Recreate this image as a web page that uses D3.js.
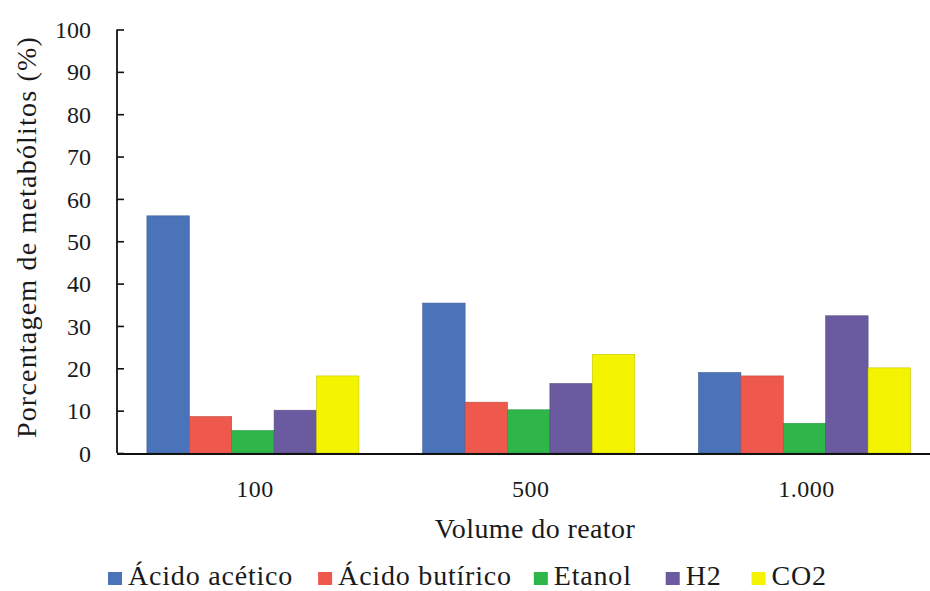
<!DOCTYPE html>
<html>
<head>
<meta charset="utf-8">
<script src="https://cdn.jsdelivr.net/npm/d3@7"></script>
<style>
  html, body { margin: 0; padding: 0; background: #fff; }
  svg { display: block; }
</style>
</head>
<body>
<svg id="chart" width="930" height="591"></svg>
<script>
// Reactor volumes (x categories)
const volumes = ["100", "500", "1.000"];
// Metabolites (series)
const metabolites = ["Ácido acético", "Ácido butírico", "Etanol", "H2", "CO2"];
// Percentage of each metabolite per reactor volume
const acidoAcetico  = [56.0, 35.4, 19.0];
const acidoButirico = [8.6, 12.0, 18.2];
const etanol        = [5.3, 10.2, 7.0];
const h2            = [10.1, 16.4, 32.4];
const co2           = [18.2, 23.3, 20.1];
const seriesValues = [acidoAcetico, acidoButirico, etanol, h2, co2];
const colors = ["#4a73b9", "#ef594d", "#2fb649", "#6a5a9f", "#f4f400"];
const yTicks = [0, 10, 20, 30, 40, 50, 60, 70, 80, 90, 100];

// Pick the first installed serif face by comparing measured widths against a monospace baseline
function pickFont(candidates, fallback) {
  const ctx = document.createElement("canvas").getContext("2d");
  const sample = "Porcentagem de metabólitos 1234567890 WMiil";
  ctx.font = "40px monospace";
  const base = ctx.measureText(sample).width;
  for (const f of candidates) {
    ctx.font = `40px "${f}", monospace`;
    if (Math.abs(ctx.measureText(sample).width - base) > 0.5) return `"${f}", ${fallback}`;
  }
  return fallback;
}
const FONT = pickFont(
  ["Liberation Serif", "Times New Roman", "Tinos", "Nimbus Roman", "FreeSerif", "DejaVu Serif", "Noto Serif"],
  "serif");

const svg = d3.select("#chart").style("font-family", FONT);

const y = d3.scaleLinear().domain([0, 100]).range([453, 29.5]);
const x0 = d3.scaleBand().domain(volumes).range([115, 942.4])
  .paddingInner(0.2313).paddingOuter(0.1157);
const x1 = d3.scaleBand().domain(metabolites).range([0, x0.bandwidth()]);

// Bars
const groups = svg.append("g").selectAll("g")
  .data(volumes)
  .join("g")
  .attr("transform", d => `translate(${x0(d)},0)`);

groups.selectAll("rect")
  .data((v, gi) => metabolites.map((m, si) => ({ m, si, value: seriesValues[si][gi] })))
  .join("rect")
  .attr("x", d => x1(d.m))
  .attr("width", x1.bandwidth())
  .attr("y", d => y(d.value))
  .attr("height", d => y(0) - y(d.value))
  .attr("fill", d => colors[d.si])
  .attr("stroke", d => d3.color(colors[d.si]).darker(0.6))
  .attr("stroke-width", 0.6);

// Y axis with inward ticks
const yAxis = d3.axisRight(y).tickValues(yTicks).tickSize(7).tickFormat("");
const yg = svg.append("g").attr("transform", "translate(117,0)").call(yAxis);
yg.select(".domain").attr("d", `M0,${y(100)}V${y(0)}`).attr("stroke", "#111").attr("stroke-width", 1.8);
yg.selectAll(".tick line").attr("stroke", "#111").attr("stroke-width", 1.6);

svg.append("g").selectAll("text")
  .data(yTicks)
  .join("text")
  .attr("x", 91)
  .attr("y", d => y(d))
  .attr("dy", "0.36em")
  .attr("text-anchor", "end")
  .attr("fill", "#1a1a1a")
  .style("font-size", "24px")
  .text(d => d);

// X axis baseline
const xAxis = d3.axisBottom(x0).tickSize(0).tickFormat("");
const xg = svg.append("g").attr("transform", `translate(0,${y(0) + 1})`).call(xAxis);
xg.select(".domain").attr("d", "M117,0H930").attr("stroke", "#111").attr("stroke-width", 2.2);

svg.append("g").selectAll("text")
  .data(volumes)
  .join("text")
  .attr("x", d => x0(d) + x0.bandwidth() / 2 + 2)
  .attr("y", 497)
  .attr("text-anchor", "middle")
  .attr("fill", "#1a1a1a")
  .style("font-size", "24px")
  .style("letter-spacing", "0.5px")
  .text(d => d);

// Axis titles
svg.append("text")
  .attr("x", 535).attr("y", 538)
  .attr("text-anchor", "middle")
  .attr("fill", "#1a1a1a")
  .style("font-size", "28px")
  .style("letter-spacing", "0.4px")
  .text("Volume do reator");

svg.append("text")
  .attr("transform", "translate(36,237) rotate(-90)")
  .attr("text-anchor", "middle")
  .attr("fill", "#1a1a1a")
  .style("font-size", "28px")
  .style("letter-spacing", "1.2px")
  .text("Porcentagem de metabólitos (%)");

// Legend: swatch, label, then the gap before the next entry
const legendGaps = [25, 22, 34, 30, 0];
const legend = svg.append("g");
let lx = 108;
metabolites.forEach((m, i) => {
  legend.append("rect")
    .attr("x", lx).attr("y", 572)
    .attr("width", 14).attr("height", 13)
    .attr("fill", colors[i]);
  const t = legend.append("text")
    .attr("x", lx + 20).attr("y", 585)
    .attr("fill", "#1a1a1a")
    .style("font-size", "28px")
    .style("letter-spacing", "0.8px")
    .text(m);
  lx += 20 + t.node().getComputedTextLength() + legendGaps[i];
});
</script>
</body>
</html>
